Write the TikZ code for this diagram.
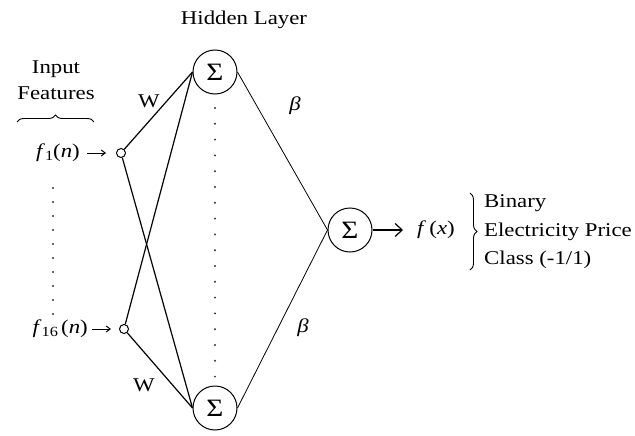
\documentclass[tikz,border=0pt]{standalone}
\usepackage{fontspec}
\setmainfont{Liberation Serif}[FakeStretch=1.17]
\usetikzlibrary{decorations.pathreplacing,arrows.meta}
\begin{document}
\begin{tikzpicture}[x=1pt,y=-1pt,
  font=\fontsize{19.5}{26}\selectfont,
  sumnode/.style={circle,draw,line width=1pt,minimum size=44pt,inner sep=0pt,font=\fontsize{25}{25}\selectfont},
  innode/.style={circle,draw,line width=1pt,minimum size=9pt,inner sep=0pt},
  wline/.style={line width=1.2pt},
  bline/.style={line width=0.8pt},
  dotmark/.style={circle,fill=black!80,inner sep=0pt,minimum size=2.2pt},
  lbl/.style={inner sep=0pt},
  brc/.style={decorate,decoration={brace,amplitude=7pt},line width=0.9pt}]
\useasboundingbox (0,0) rectangle (635,436);
% hidden layer
\node[lbl] (hl) at (244,20) {Hidden Layer};
\node[sumnode] (h1) at (215,72) {Σ};
\node[sumnode] (h2) at (215,408) {Σ};
\node[sumnode] (out) at (350,230) {Σ};
% inputs
\node[innode] (i1) at (121,153) {};
\node[innode] (i2) at (124,329) {};
\node[lbl,anchor=east] (f1) at (80,153) {\textit{f}\raisebox{-0.35ex}{\fontsize{14}{14}\selectfont 1}(\textit{n})};
\node[lbl,anchor=east] (f16) at (88,329) {\textit{f}\raisebox{-0.35ex}{\fontsize{14}{14}\selectfont 16}\,(\textit{n})};
\coordinate (a1) at (106,153);
\coordinate (a2) at (111,329);
\draw[line width=1pt,-{Straight Barb[length=4pt,width=6pt]}] (f1.east) ++(7,0) coordinate (s1) -- (a1);
\draw[line width=1pt,-{Straight Barb[length=4pt,width=6pt]}] (f16.east) ++(4,0) coordinate (s2) -- (a2);
\node[lbl,align=center] (inf) at (56,80) {Input\\Features};
\coordinate (b1) at (17,122);
\coordinate (b2) at (94,122);
\draw[brc] (b1) -- (b2);
% input dots
\foreach \y in {188,202,...,314} \node[dotmark] at (53,\y) {};
% hidden dots
\foreach \y in {108,123.8,...,378} \node[dotmark] at (215,\y) {};
% weights
\draw[wline] (i1) -- (h1.west);
\draw[wline] (i1) -- (h2.west);
\draw[wline] (i2) -- (h1.west);
\draw[wline] (i2) -- (h2.west);
\node[lbl] (w1) at (149,101) {W};
\node[lbl] (w2) at (144,385) {W};
% output weights
\draw[bline] (h1.east) -- (out.west);
\draw[bline] (h2.east) -- (out.west);
\node[lbl] (be1) at (295,106) {\textit{β}};
\node[lbl] (be2) at (303,328) {\textit{β}};
% output
\coordinate (oa) at (403,230);
\draw[line width=1.2pt,-{Straight Barb[length=7pt,width=13pt]}] (out.east) -- (oa);
\node[lbl] (fx) at (436,230) {\textit{f}\,(\textit{x})};
\coordinate (c1) at (470,193);
\coordinate (c2) at (470,270);
\draw[brc] (c1) -- (c2);
\node[lbl,anchor=west,align=left,font=\fontsize{19.5}{28.5}\selectfont] (cls) at (484,232) {Binary\\Electricity Price\\Class (-1/1)};
\end{tikzpicture}
\end{document}
